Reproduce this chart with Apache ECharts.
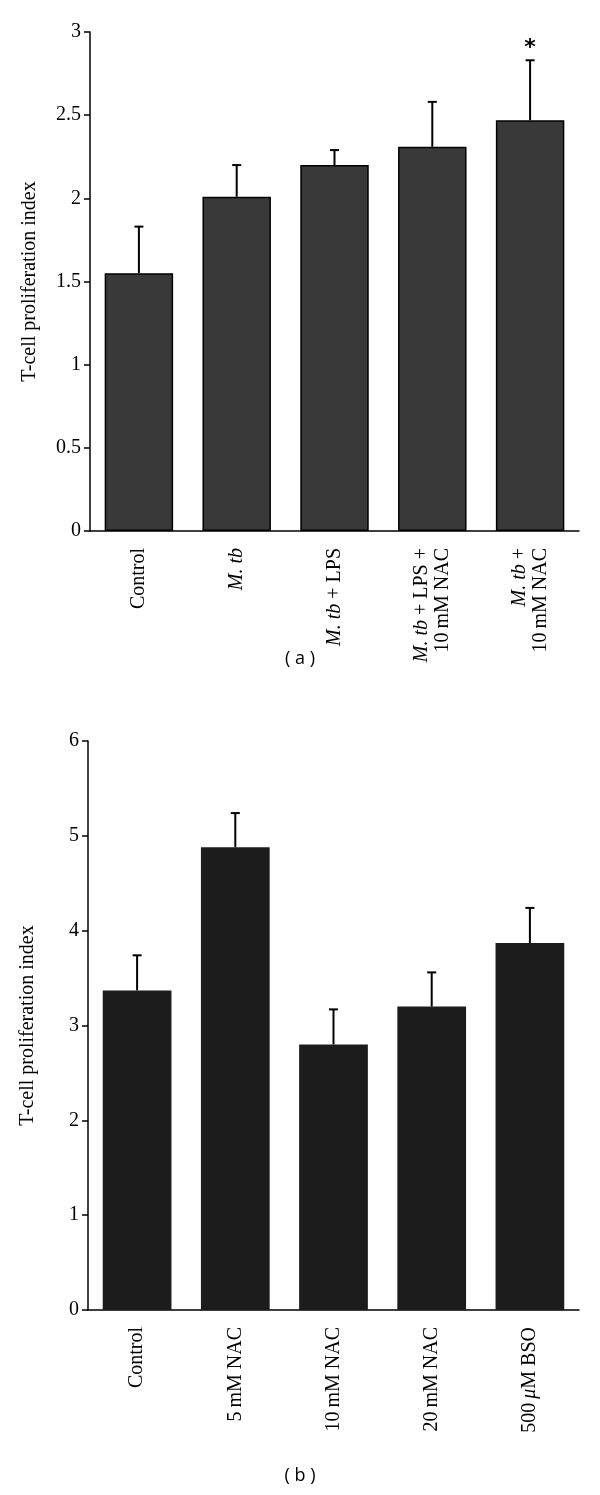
<!DOCTYPE html>
<html>
<head>
<meta charset="utf-8">
<script src="https://cdn.jsdelivr.net/npm/echarts@6/dist/echarts.min.js"></script>
<style>
html,body{margin:0;padding:0;background:#fff;}
#chart{width:600px;height:1495px;}
</style>
</head>
<body>
<div id="chart"></div>
<script>
// Panel (a)
var categoriesA = ['Control', 'M. tb', 'M. tb + LPS', 'M. tb + LPS +\n10\u2009mM NAC', 'M. tb +\n10\u2009mM NAC'];
var valuesA = [1.55, 2.01, 2.20, 2.31, 2.47];
var errTopA = [1.83, 2.20, 2.29, 2.58, 2.83];
var sigA = ['', '', '', '', '*'];
var ticksA = {min: 0, max: 3, interval: 0.5};

// Panel (b)
var categoriesB = ['Control', '5\u2009mM NAC', '10\u2009mM NAC', '20\u2009mM NAC', '500\u2009\u03bcM BSO'];
var valuesB = [3.37, 4.88, 2.80, 3.20, 3.87];
var errTopB = [3.74, 5.24, 3.17, 3.56, 4.24];
var sigB = ['', '', '', '', ''];
var ticksB = {min: 0, max: 6, interval: 1};

var yName = 'T-cell proliferation index';
var captions = ['( a )', '( b )'];

var SERIF = '"Liberation Serif", "DejaVu Serif", serif';

function richLabel(s) {
  return s.split('\n').map(function (line) {
    var parts = line.split(/(M\. tb|\u03bc)/);
    return parts.filter(function (p) { return p.length; }).map(function (p) {
      if (p === 'M. tb' || p === '\u03bc') return '{i|' + p + '}';
      return '{n|' + p + '}';
    }).join('');
  }).join('\n');
}

var richStyle = {
  n: {fontFamily: SERIF, fontSize: 20, color: '#000', lineHeight: 21},
  i: {fontFamily: SERIF, fontSize: 20, color: '#000', fontStyle: 'italic', lineHeight: 21}
};

function xAxisFor(gi, cats) {
  return {
    type: 'category', gridIndex: gi, data: cats,
    axisLine: {lineStyle: {color: '#000', width: 1.5}},
    axisTick: {length: 6, lineStyle: {color: '#000', width: 1.5}},
    axisLabel: {rotate: 90, margin: 17, interval: 0, formatter: richLabel, rich: richStyle,
      fontFamily: SERIF, fontSize: 20, color: '#000', lineHeight: 21}
  };
}
function yAxisFor(gi, t) {
  return {
    type: 'value', gridIndex: gi, min: t.min, max: t.max, interval: t.interval,
    name: yName, nameLocation: 'middle', nameGap: 50,
    nameTextStyle: {fontFamily: SERIF, fontSize: 20, color: '#000'},
    splitLine: {show: false},
    axisLine: {show: true, lineStyle: {color: '#000', width: 1.5}},
    axisTick: {show: true, length: 6, lineStyle: {color: '#000', width: 1.5}},
    axisLabel: {margin: 9, fontFamily: SERIF, fontSize: 20, color: '#000'}
  };
}
function errSeries(gi, vals, tops, sig) {
  return {
    type: 'custom', xAxisIndex: gi, yAxisIndex: gi, z: 5,
    data: vals.map(function (v, i) { return [i, v, tops[i], sig[i]]; }),
    renderItem: function (params, api) {
      var i = api.value(0);
      var p0 = api.coord([i, api.value(1)]);
      var p1 = api.coord([i, api.value(2)]);
      var half = 4.5;
      var children = [
        {type: 'line', shape: {x1: p0[0], y1: p0[1], x2: p1[0], y2: p1[1]}, style: {stroke: '#000', lineWidth: 2}},
        {type: 'line', shape: {x1: p1[0] - half, y1: p1[1], x2: p1[0] + half, y2: p1[1]}, style: {stroke: '#000', lineWidth: 2}}
      ];
      var s = sig[params.dataIndex];
      if (s) {
        children.push({type: 'text', style: {text: s, x: p1[0], y: p1[1] - 12, align: 'center', verticalAlign: 'middle',
          font: 'bold 22px "DejaVu Sans", sans-serif', fill: '#000'}});
      }
      return {type: 'group', children: children};
    }
  };
}

var chart = echarts.init(document.getElementById('chart'), null, {renderer: 'canvas'});
chart.setOption({
  animation: false,
  backgroundColor: '#fff',
  grid: [
    {left: 90, right: 21, top: 32, height: 499},
    {left: 88, right: 21, top: 741, height: 569}
  ],
  xAxis: [xAxisFor(0, categoriesA), xAxisFor(1, categoriesB)],
  yAxis: [yAxisFor(0, ticksA), yAxisFor(1, ticksB)],
  graphic: [
    {type: 'text', left: 'center', top: 650, style: {text: captions[0], font: '18px "Open Sans", sans-serif', fill: '#000'}},
    {type: 'text', left: 'center', top: 1467, style: {text: captions[1], font: '18px "Open Sans", sans-serif', fill: '#000'}}
  ],
  series: [
    {type: 'bar', xAxisIndex: 0, yAxisIndex: 0, data: valuesA, barWidth: '70%',
      itemStyle: {color: '#393939', borderColor: '#000', borderWidth: 1.5}},
    errSeries(0, valuesA, errTopA, sigA),
    {type: 'bar', xAxisIndex: 1, yAxisIndex: 1, data: valuesB, barWidth: '70%',
      itemStyle: {color: '#1c1c1c'}},
    errSeries(1, valuesB, errTopB, sigB)
  ]
});
</script>
</body>
</html>
